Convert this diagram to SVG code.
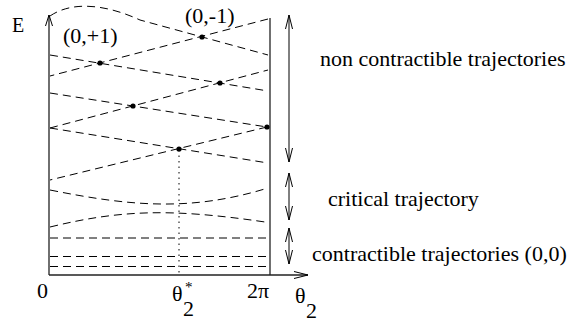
<svg xmlns="http://www.w3.org/2000/svg" width="568" height="326" viewBox="0 0 568 326">
<defs>
<marker id="ah" viewBox="0 0 14 8" refX="14" refY="4" markerWidth="14" markerHeight="8" markerUnits="userSpaceOnUse" orient="auto-start-reverse">
<path d="M0,0.5 L14,4 L0,7.5" fill="none" stroke="#000" stroke-width="1"/>
</marker>
<marker id="ax" viewBox="0 0 11 8" refX="11" refY="4" markerWidth="11" markerHeight="8" markerUnits="userSpaceOnUse" orient="auto">
<path d="M0,0.5 L11,4 L0,7.5" fill="none" stroke="#000" stroke-width="1"/>
</marker>
</defs>
<style>
.t{font-family:"Liberation Serif","Times New Roman",serif;font-size:22px;fill:#000}
.d{fill:none;stroke:#000;stroke-width:1;stroke-dasharray:8 5}
.ax{fill:none;stroke:#222;stroke-width:1.3}
.dot{fill:#000}
.da{fill:none;stroke:#000;stroke-width:1;marker-start:url(#ah);marker-end:url(#ah)}
</style>
<rect width="568" height="326" fill="#fff"/>
<g id="axes">
<line class="ax" x1="49" y1="275" x2="49" y2="15" marker-end="url(#ax)"/>
<line class="ax" x1="49" y1="275" x2="308" y2="275" marker-end="url(#ah)"/>
<line class="ax" x1="270" y1="18" x2="270" y2="275"/>
</g>
<g id="connectors">
<path class="d" d="M50,16 C72,1 105,4 140,20 L268,55"/>
<line class="d" x1="268" y1="19" x2="50" y2="76"/>
<line class="d" x1="50" y1="55" x2="268" y2="91"/>
<line class="d" x1="50" y1="93" x2="267" y2="127"/>
<line class="d" x1="50" y1="128" x2="268" y2="70"/>
<line class="d" x1="50" y1="128" x2="268" y2="163"/>
<line class="d" x1="267" y1="127" x2="50" y2="180"/>
<path class="d" d="M50,190 C130,206 190,212 268,188"/>
<path class="d" d="M50,227 C120,210 170,208 265,222"/>
<line class="d" x1="50" y1="238" x2="267" y2="238"/>
<line class="d" x1="50" y1="256.5" x2="267" y2="256.5"/>
<line class="d" x1="50" y1="266.5" x2="267" y2="266.5"/>
<line x1="179" y1="150" x2="179" y2="275" stroke="#000" stroke-width="1" stroke-dasharray="1.5 4"/>
<line class="da" x1="289" y1="15" x2="289" y2="162"/>
<line class="da" x1="289" y1="173" x2="289" y2="220"/>
<line class="da" x1="289" y1="228" x2="289" y2="264"/>
</g>
<g id="crossings">
<circle class="dot" cx="202" cy="37" r="2.6"/>
<circle class="dot" cx="100" cy="63" r="2.6"/>
<circle class="dot" cx="220" cy="83" r="2.6"/>
<circle class="dot" cx="133" cy="106" r="2.6"/>
<circle class="dot" cx="267" cy="127" r="2.6"/>
<circle class="dot" cx="179" cy="149" r="2.6"/>
</g>
<g id="labels">
<text class="t" x="12" y="32" style="font-size:20px">E</text>
<text class="t" x="63" y="43">(0,+1)</text>
<text class="t" x="185" y="23">(0,-1)</text>
<text class="t" x="320" y="66">non contractible trajectories</text>
<text class="t" x="328" y="206">critical trajectory</text>
<text class="t" x="312" y="261">contractible trajectories (0,0)</text>
<text class="t" x="37" y="298">0</text>
<text class="t" x="172" y="301">θ</text>
<text class="t" x="185" y="292" style="font-size:15px">*</text>
<text class="t" x="183" y="316">2</text>
<text class="t" x="247" y="298">2π</text>
<text class="t" x="295" y="303">θ</text>
<text class="t" x="306" y="318">2</text>
</g>
</svg>
